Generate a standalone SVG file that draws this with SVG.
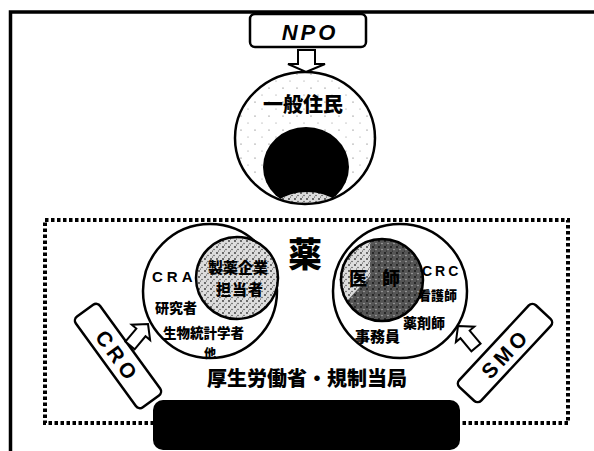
<svg xmlns="http://www.w3.org/2000/svg" width="594" height="451" viewBox="0 0 594 451">
<style>
.ln{fill:none;stroke:#000;stroke-width:2.5}
.jp{font-family:"Noto Sans CJK JP","Noto Sans CJK SC",sans-serif;font-weight:900;fill:#000}
.lat{font-family:"Liberation Sans",Arial,sans-serif;font-weight:bold;fill:#000}
.box{fill:#fff;stroke:#000;stroke-width:2.5}
.arr{fill:#fff;stroke:#000;stroke-width:2;stroke-linejoin:miter}
</style>
<defs>
<pattern id="speck" width="14" height="14" patternUnits="userSpaceOnUse"><rect width="14" height="14" fill="#fff"/><circle cx="3" cy="4" r="0.6" fill="#555"/><circle cx="10" cy="11" r="0.5" fill="#777"/></pattern>
<pattern id="stip" width="6" height="6" patternUnits="userSpaceOnUse"><rect width="6" height="6" fill="#ddd"/><circle cx="1" cy="1" r="0.9" fill="#333"/><circle cx="4" cy="3.5" r="0.8" fill="#555"/><circle cx="2.5" cy="5" r="0.5" fill="#222"/></pattern>
<pattern id="dark" width="6" height="6" patternUnits="userSpaceOnUse"><rect width="6" height="6" fill="#555"/><circle cx="1" cy="1" r="0.9" fill="#111"/><circle cx="4" cy="3.5" r="0.7" fill="#bbb"/><circle cx="2.5" cy="5" r="0.6" fill="#222"/></pattern>
<clipPath id="outerClip"><ellipse cx="305" cy="138" rx="70" ry="66"/></clipPath>
<clipPath id="blackClip"><ellipse cx="306" cy="167" rx="43" ry="40"/></clipPath>
</defs>

<g id="frame"><path d="M10.5 451 V12 H594" fill="none" stroke="#000" stroke-width="3.5"/></g>

<g id="yaku-region">
<rect x="45" y="220" width="523" height="203" fill="none" stroke="#000" stroke-width="4" stroke-dasharray="3.5 2.5"/>
<text class="jp" x="305" y="267" font-size="34" text-anchor="middle">薬</text>
</g>

<g id="npo">
<rect class="box" x="250" y="14" width="116" height="33" rx="5"/>
<text class="lat" x="310" y="40" font-size="22" font-style="italic" text-anchor="middle" letter-spacing="3">NPO</text>
</g>

<g id="general-public">
<ellipse cx="305" cy="138" rx="70" ry="66" fill="url(#speck)"/>
<g clip-path="url(#outerClip)">
<ellipse cx="306" cy="167" rx="43" ry="40" fill="#000"/>
<g clip-path="url(#blackClip)"><ellipse cx="307" cy="222" rx="42" ry="30" fill="url(#stip)"/></g>
</g>
<ellipse class="ln" cx="305" cy="138" rx="70" ry="66"/>
<text class="jp" x="303" y="112" font-size="20" text-anchor="middle">一般住民</text>
</g>

<g id="sponsor-circle">
<circle class="ln" cx="210" cy="291" r="67" fill="#fff"/>
<circle cx="237" cy="278" r="41" fill="url(#stip)" stroke="#000" stroke-width="2.5"/>
<text class="lat" x="152" y="282" font-size="15" letter-spacing="4">CRA</text>
<text class="jp" x="238" y="273" font-size="15" text-anchor="middle">製薬企業</text>
<text class="jp" x="240" y="295" font-size="15" text-anchor="middle" letter-spacing="1">担当者</text>
<text class="jp" x="155" y="313" font-size="14">研究者</text>
<text class="jp" x="163" y="338" font-size="13.5">生物統計学者</text>
<text class="jp" x="210" y="358" font-size="12" text-anchor="middle">他</text>
</g>

<g id="site-circle">
<circle class="ln" cx="400" cy="291" r="67" fill="#fff"/>
<circle cx="382" cy="280" r="41" fill="url(#dark)"/>
<path d="M370 240 L370 276 L346 302 A41 41 0 0 1 370 240 Z" fill="url(#stip)"/>
<circle class="ln" cx="382" cy="280" r="41"/>
<text class="jp" x="358" y="285" font-size="18" text-anchor="middle">医</text>
<text class="jp" x="391" y="285" font-size="18" text-anchor="middle">師</text>
<text class="lat" x="422" y="276" font-size="14" letter-spacing="3">CRC</text>
<text class="jp" x="418" y="300" font-size="13">看護師</text>
<text class="jp" x="403" y="328" font-size="14">薬剤師</text>
<text class="jp" x="355" y="342" font-size="15">事務員</text>
</g>

<g id="cro">
<g transform="translate(118 356) rotate(54)">
<rect class="box" x="-56" y="-15" width="112" height="30" rx="5"/>
<text class="lat" x="0" y="8" font-size="21" text-anchor="middle" letter-spacing="4">CRO</text>
</g>
</g>

<g id="smo">
<g transform="translate(505 353) rotate(-47)">
<rect class="box" x="-56" y="-15" width="112" height="30" rx="5"/>
<text class="lat" x="0" y="8" font-size="21" text-anchor="middle" letter-spacing="4">SMO</text>
</g>
</g>

<g id="mhlw">
<text class="jp" x="307" y="386" font-size="20" text-anchor="middle">厚生労働省・規制当局</text>
</g>

<g id="black-box">
<rect x="153" y="400" width="307" height="50" rx="10" fill="#000"/>
</g>

<g id="connectors">
<path class="arr" d="M306 72 L325 64 L315 64 L315 50 L298 50 L298 64 L288 64 Z"/>
<path class="arr" transform="translate(148 324) rotate(40)" d="M0 0 L12 11 L6 11 L6 28 L-6 28 L-6 11 L-12 11 Z"/>
<path class="arr" transform="translate(458 326) rotate(-40)" d="M0 0 L12 11 L6 11 L6 28 L-6 28 L-6 11 L-12 11 Z"/>
</g>
</svg>
